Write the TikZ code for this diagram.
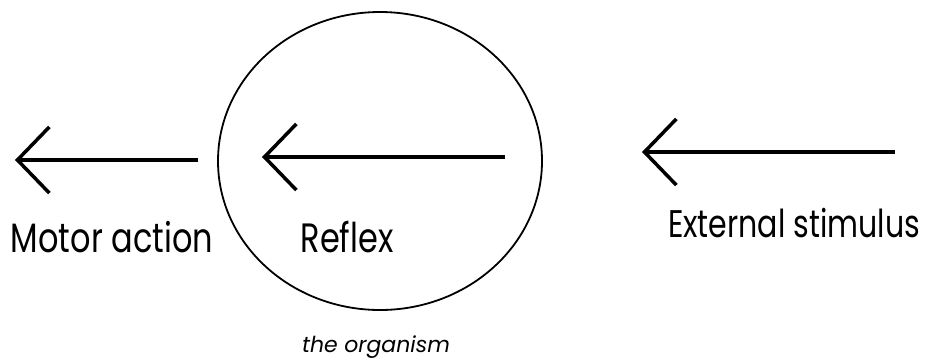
\documentclass[tikz,border=0pt]{standalone}
\usepackage{fontspec}
\setmainfont{Poppins}
\newfontfamily\labelfont{Poppins}[FakeStretch=0.78]
\usetikzlibrary{shapes.geometric, arrows.meta, positioning}

\begin{document}
\begin{tikzpicture}[
    x=1pt, y=-1pt,
    >={Straight Barb[angle=92:46pt]},
    label/.style={font=\labelfont\fontsize{41}{48}\selectfont, inner sep=0pt, anchor=base},
    smalllabel/.style={font=\fontsize{22}{26}\selectfont\itshape, inner sep=0pt, anchor=base},
    arrow/.style={->, line width=3.5pt},
    organism/.style={ellipse, draw=black, line width=1.8pt, minimum width=324pt, minimum height=298pt, inner sep=0pt}
]
    \useasboundingbox (0,0) rectangle (931,359);
    \node[organism] (body) at (380,161) {};
    % arrow ends
    \coordinate (motorstart) at (198,160);
    \coordinate (motorend) at (15,160);
    \coordinate (reflexstart) at (505,157);
    \coordinate (reflexend) at (262,157);
    \coordinate (stimstart) at (895,152);
    \coordinate (stimend) at (642,152);
    \draw[arrow] (motorstart) -- (motorend);
    \draw[arrow] (reflexstart) -- (reflexend);
    \draw[arrow] (stimstart) -- (stimend);
    % labels
    \node[label] (motor) at (112,252) {Motor action};
    \node[label] (reflex) at (347,252) {Reflex};
    \node[label, font=\labelfont\fontsize{38.5}{45}\selectfont] (stimulus) at (794,237) {External stimulus};
    \node[smalllabel] (organismlabel) at (376,352) {the organism};
\end{tikzpicture}
\end{document}
